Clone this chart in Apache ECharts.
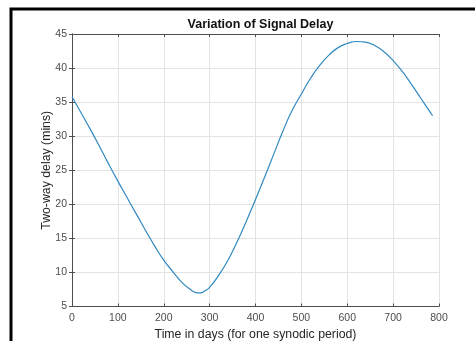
<!DOCTYPE html>
<html>
<head>
<meta charset="utf-8">
<script src="https://cdn.jsdelivr.net/npm/echarts@6/dist/echarts.min.js"></script>
<style>
html,body{margin:0;padding:0;background:#fff;}
#chart{width:475px;height:341px;}
</style>
</head>
<body>
<div id="chart"></div>
<script>
const titleText = "Variation of Signal Delay";
const xLabel = "Time in days (for one synodic period)";
const yLabel = "Two-way delay (mins)";
const xTicks = [0, 100, 200, 300, 400, 500, 600, 700, 800];
const yTicks = [5, 10, 15, 20, 25, 30, 35, 40, 45];
const days = [0, 20, 40, 60, 80, 100, 120, 140, 160, 180, 200, 220, 240, 260, 270, 280, 290, 300, 320, 340, 360, 380, 400, 420, 440, 460, 480, 500, 520, 540, 560, 580, 600, 620, 640, 660, 680, 700, 720, 740, 760, 780, 786];
const delay = [35.8, 33.4, 31.0, 28.5, 25.9, 23.4, 21.0, 18.6, 16.2, 13.9, 11.8, 10.1, 8.5, 7.4, 7.05, 7.0, 7.3, 7.8, 9.6, 11.8, 14.5, 17.5, 20.7, 24.0, 27.4, 30.8, 33.8, 36.2, 38.5, 40.4, 41.9, 43.0, 43.6, 43.9, 43.8, 43.3, 42.4, 41.1, 39.5, 37.6, 35.6, 33.6, 33.0];

const chart = echarts.init(document.getElementById('chart'), null, {renderer: 'canvas'});
const axisColor = '#4d4d4d';
const gridColor = '#e3e3e3';
const font = 'Liberation Sans, Arial, sans-serif';

chart.setOption({
  animation: false,
  backgroundColor: '#fff',
  title: {
    text: titleText,
    left: 255.5, top: 13, textAlign: 'center',
    textStyle: {fontFamily: font, fontSize: 12.5, fontWeight: 'bold', color: '#111'}
  },
  grid: {left: 72, right: 36, top: 34, bottom: 34.5, containLabel: false, outerBoundsMode: 'none'},
  xAxis: [{
    type: 'value', min: xTicks[0], max: xTicks[xTicks.length - 1], interval: 100,
    position: 'bottom',
    name: xLabel, nameLocation: 'middle', nameGap: 22, nameMoveOverlap: false,
    nameTextStyle: {fontFamily: font, fontSize: 12.3, color: '#262626'},
    axisLine: {show: true, lineStyle: {color: axisColor, width: 1}},
    axisTick: {show: true, inside: true, length: 3, lineStyle: {color: axisColor}},
    axisLabel: {fontFamily: font, fontSize: 10.5, color: '#4d4d4d', margin: 6},
    splitLine: {show: true, lineStyle: {color: gridColor, width: 1}}
  }, {
    type: 'value', min: xTicks[0], max: xTicks[xTicks.length - 1], interval: 100,
    position: 'top',
    axisLine: {show: true, lineStyle: {color: axisColor, width: 1}},
    axisTick: {show: true, inside: true, length: 3, lineStyle: {color: axisColor}},
    axisLabel: {show: false},
    splitLine: {show: false}
  }],
  yAxis: [{
    type: 'value', min: yTicks[0], max: yTicks[yTicks.length - 1], interval: 5,
    position: 'left',
    name: yLabel, nameLocation: 'middle', nameGap: 19, nameRotate: 90, nameMoveOverlap: false,
    nameTextStyle: {fontFamily: font, fontSize: 12.3, color: '#262626'},
    axisLine: {show: true, lineStyle: {color: axisColor, width: 1}},
    axisTick: {show: true, inside: true, length: 3, lineStyle: {color: axisColor}},
    axisLabel: {fontFamily: font, fontSize: 10.5, color: '#4d4d4d', margin: 5},
    splitLine: {show: true, lineStyle: {color: gridColor, width: 1}}
  }, {
    type: 'value', min: yTicks[0], max: yTicks[yTicks.length - 1], interval: 5,
    position: 'right',
    axisLine: {show: true, lineStyle: {color: axisColor, width: 1}},
    axisTick: {show: true, inside: true, length: 3, lineStyle: {color: axisColor}},
    axisLabel: {show: false},
    splitLine: {show: false}
  }],
  series: [{
    type: 'line',
    xAxisIndex: 0, yAxisIndex: 0,
    data: days.map((d, i) => [d, delay[i]]),
    smooth: 0.5,
    showSymbol: false,
    lineStyle: {color: '#3089c0', width: 1.2},
    z: 5
  }],
  graphic: [{
    type: 'rect',
    shape: {x: 11, y: 9, width: 520, height: 420},
    style: {fill: 'none', stroke: '#000', lineWidth: 3},
    silent: true, z: 100
  }]
});
</script>
</body>
</html>
